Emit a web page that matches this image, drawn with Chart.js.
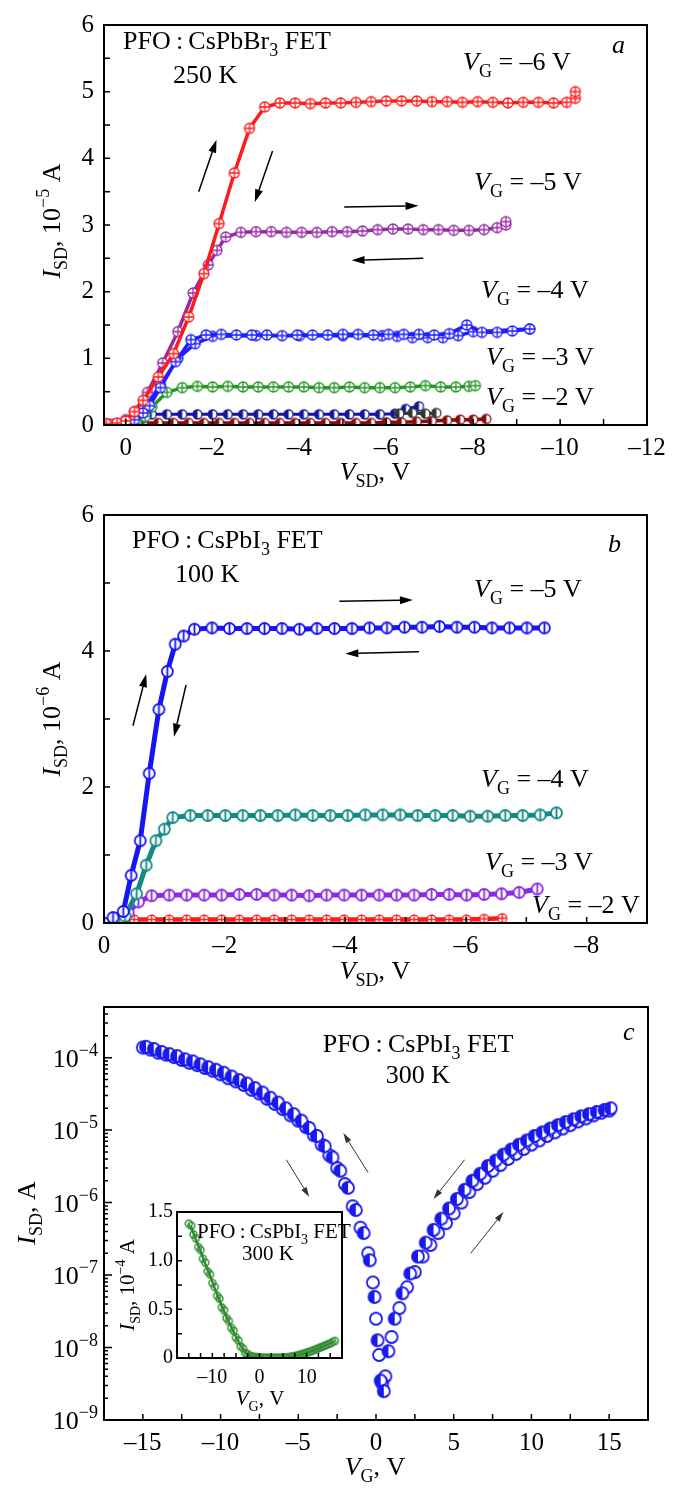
<!DOCTYPE html>
<html lang="en">
<head>
<meta charset="UTF-8">
<title>PFO:CsPbX3 FET</title>
<script src="https://cdn.jsdelivr.net/npm/chart.js@4.4.0/dist/chart.umd.min.js"></script>
<style>
  body { margin: 0; background: #fff; width: 676px; height: 1488px; position: relative; overflow: hidden; }
  canvas { position: absolute; left: 0; }
</style>
</head>
<body>
<canvas id="ca" width="676" height="490" style="top:0px"></canvas>
<canvas id="cb" width="676" height="510" style="top:490px"></canvas>
<canvas id="cc" width="676" height="488" style="top:1000px"></canvas>
<canvas id="ci" width="270" height="220" style="top:1195px;left:100px"></canvas>

<script>
// ---- panel a : PFO:CsPbBr3, 250 K, I_SD in 1e-5 A ----
const aRedX = [0.45, 0.2, 0, -0.2, -0.4, -0.75, -1.1, -1.45, -1.8, -2.15, -2.5, -2.85, -3.2, -3.55, -3.9, -4.25, -4.6, -4.95, -5.3, -5.65, -6.0, -6.35, -6.7, -7.05, -7.4, -7.75, -8.1, -8.45, -8.8, -9.15, -9.5, -9.85, -10.15, -10.35, -10.35];
const aRedY = [0.02, 0.03, 0.06, 0.2, 0.37, 0.72, 1.07, 1.62, 2.27, 3.02, 3.78, 4.45, 4.77, 4.83, 4.83, 4.82, 4.83, 4.83, 4.84, 4.85, 4.86, 4.86, 4.86, 4.85, 4.85, 4.84, 4.85, 4.84, 4.83, 4.84, 4.84, 4.83, 4.84, 4.9, 5.0];
const aPurX = [0.3, 0, -0.2, -0.5, -0.85, -1.2, -1.55, -1.9, -2.1, -2.3, -2.65, -3.0, -3.35, -3.7, -4.05, -4.4, -4.75, -5.1, -5.45, -5.8, -6.15, -6.5, -6.85, -7.2, -7.55, -7.9, -8.25, -8.55, -8.75, -8.75];
const aPurY = [0.01, 0.08, 0.2, 0.49, 0.93, 1.4, 1.98, 2.4, 2.62, 2.82, 2.89, 2.9, 2.9, 2.89, 2.89, 2.89, 2.9, 2.9, 2.91, 2.93, 2.94, 2.94, 2.93, 2.93, 2.92, 2.92, 2.93, 2.96, 3.0, 3.05];
const aBluX = [0.2, 0, -0.2, -0.4, -0.55, -0.8, -1.15, -1.5, -1.85, -2.2, -2.55, -2.9, -3.25, -3.6, -3.95, -4.3, -4.65, -5.0, -5.35, -5.7, -6.05, -6.4, -6.75, -7.1, -7.45, -7.85, -8.2, -8.55, -8.9, -9.3];
const aBluY = [0.0, 0.02, 0.08, 0.18, 0.29, 0.56, 0.95, 1.28, 1.35, 1.36, 1.35, 1.35, 1.35, 1.34, 1.35, 1.35, 1.35, 1.36, 1.36, 1.35, 1.36, 1.36, 1.36, 1.35, 1.37, 1.5, 1.39, 1.39, 1.41, 1.44];
const aBluBackX = [-9.3, -8.0, -7.65, -7.3, -6.95, -6.6, -6.25, -5.9, -5.0, -4.0, -3.0, -2.0, -1.6, -1.2, -0.8, -0.4, 0];
const aBluBackY = [1.44, 1.4, 1.34, 1.31, 1.31, 1.31, 1.33, 1.34, 1.34, 1.34, 1.34, 1.33, 1.22, 1.0, 0.6, 0.22, 0.02];
const aGrnX = [0.2, 0, -0.25, -0.45, -0.6, -0.95, -1.3, -1.65, -2.0, -2.35, -2.7, -3.05, -3.4, -3.75, -4.1, -4.45, -4.8, -5.15, -5.5, -5.85, -6.2, -6.55, -6.9, -7.25, -7.6, -7.9, -8.05];
const aGrnY = [0.0, 0.0, 0.02, 0.13, 0.27, 0.49, 0.56, 0.58, 0.57, 0.58, 0.57, 0.57, 0.57, 0.57, 0.57, 0.56, 0.56, 0.57, 0.56, 0.56, 0.56, 0.57, 0.59, 0.57, 0.57, 0.58, 0.59];
const aNavX = [0.1, -0.2, -0.4, -0.6, -0.95, -1.3, -1.65, -2.0, -2.35, -2.7, -3.05, -3.4, -3.75, -4.1, -4.45, -4.8, -5.15, -5.5, -5.85, -6.2, -6.45, -6.75];
const aNavY = [0.0, 0.03, 0.1, 0.16, 0.16, 0.16, 0.16, 0.16, 0.16, 0.16, 0.16, 0.16, 0.16, 0.16, 0.16, 0.16, 0.16, 0.16, 0.16, 0.17, 0.24, 0.28];
const aNavBackX = [-6.3, -6.6, -6.9, -7.15];
const aNavBackY = [0.17, 0.18, 0.17, 0.18];
const aMarX = [0.4, 0, -0.4, -0.75, -1.1, -1.45, -1.8, -2.15, -2.5, -2.85, -3.2, -3.55, -3.9, -4.25, -4.6, -4.95, -5.3, -5.65, -6.0, -6.35, -6.7, -7.05, -7.4, -7.7, -8.0, -8.3];
const aMarY = [0.02, 0.02, 0.03, 0.03, 0.03, 0.03, 0.03, 0.03, 0.03, 0.03, 0.03, 0.03, 0.03, 0.03, 0.03, 0.03, 0.03, 0.03, 0.04, 0.04, 0.05, 0.06, 0.07, 0.08, 0.08, 0.09];

// ---- panel b : PFO:CsPbI3, 100 K, I_SD in 1e-6 A ----
const bBluX = [0, -0.15, -0.32, -0.45, -0.6, -0.75, -0.91, -1.05, -1.18, -1.32, -1.5, -1.79, -2.08, -2.37, -2.66, -2.95, -3.24, -3.53, -3.82, -4.11, -4.4, -4.69, -4.98, -5.27, -5.56, -5.85, -6.14, -6.43, -6.72, -7.01, -7.3];
const bBluY = [0, 0.08, 0.17, 0.7, 1.21, 2.2, 3.14, 3.7, 4.1, 4.22, 4.32, 4.34, 4.33, 4.33, 4.33, 4.33, 4.32, 4.33, 4.33, 4.33, 4.34, 4.34, 4.35, 4.35, 4.36, 4.35, 4.35, 4.34, 4.34, 4.34, 4.34];
const bTealX = [-0.25, -0.35, -0.54, -0.7, -0.86, -1.0, -1.14, -1.43, -1.72, -2.01, -2.3, -2.59, -2.88, -3.17, -3.46, -3.75, -4.04, -4.33, -4.62, -4.91, -5.2, -5.49, -5.78, -6.07, -6.36, -6.65, -6.94, -7.23, -7.5];
const bTealY = [0.0, 0.1, 0.43, 0.85, 1.21, 1.38, 1.55, 1.58, 1.58, 1.58, 1.58, 1.58, 1.58, 1.59, 1.58, 1.58, 1.58, 1.59, 1.59, 1.59, 1.58, 1.58, 1.58, 1.57, 1.57, 1.58, 1.58, 1.59, 1.62];
const bPurX = [-0.25, -0.4, -0.57, -0.79, -1.08, -1.37, -1.66, -1.95, -2.24, -2.53, -2.82, -3.11, -3.4, -3.69, -3.98, -4.27, -4.56, -4.85, -5.14, -5.43, -5.72, -6.01, -6.3, -6.59, -6.88, -7.18];
const bPurY = [0.0, 0.15, 0.31, 0.4, 0.41, 0.41, 0.41, 0.41, 0.42, 0.42, 0.41, 0.41, 0.4, 0.41, 0.41, 0.41, 0.41, 0.41, 0.41, 0.42, 0.42, 0.41, 0.42, 0.43, 0.45, 0.5];
const bRedX = [-0.25, -0.5, -0.79, -1.08, -1.37, -1.66, -1.95, -2.24, -2.53, -2.82, -3.11, -3.4, -3.69, -3.98, -4.27, -4.56, -4.85, -5.14, -5.43, -5.72, -6.01, -6.3, -6.6];
const bRedY = [0.0, 0.05, 0.05, 0.05, 0.05, 0.05, 0.05, 0.05, 0.05, 0.05, 0.05, 0.05, 0.05, 0.05, 0.05, 0.05, 0.05, 0.05, 0.05, 0.05, 0.05, 0.06, 0.07];

// ---- panel c : transfer curve, 300 K, I_SD in A (log) ----
const cFwdX = [-15, -14.5, -14, -13.5, -13, -12.5, -12, -11.5, -11, -10.5, -10, -9.5, -9, -8.5, -8, -7.5, -7, -6.5, -6, -5.5, -5, -4.5, -4, -3.5, -3, -2.5, -2, -1.5, -1, -0.5,
  -0.2, 0, 0.2, 0.4, 0.6,
  1, 1.5, 2, 2.5, 3, 3.5, 4, 4.5, 5, 5.5, 6, 6.5, 7, 7.5, 8, 8.5, 9, 9.5, 10, 10.5, 11, 11.5, 12, 12.5, 13, 13.5, 14, 14.5, 15];
const cFwdY = [1.38e-4, 1.29e-4, 1.17e-4, 1.10e-4, 1.02e-4, 9.3e-5, 8.5e-5, 7.9e-5, 7.2e-5, 6.6e-5, 5.9e-5, 5.2e-5, 4.7e-5, 4.2e-5, 3.6e-5, 3.2e-5, 2.7e-5, 2.3e-5, 1.95e-5, 1.6e-5, 1.35e-5, 1.1e-5, 8.5e-6, 6.3e-6, 4.5e-6, 3.0e-6, 1.8e-6, 8.9e-7, 4.5e-7, 2.0e-7,
  7.9e-8, 2.5e-8, 7.9e-9, 3.2e-9, 4.0e-9,
  1.4e-8, 3.5e-8, 6.8e-8, 1.1e-7, 1.8e-7, 2.6e-7, 3.8e-7, 5.2e-7, 7.1e-7, 1.0e-6, 1.4e-6, 1.8e-6, 2.2e-6, 2.75e-6, 3.3e-6, 4.0e-6, 4.7e-6, 5.5e-6, 6.3e-6, 7.2e-6, 8.3e-6, 9.3e-6, 1.05e-5, 1.17e-5, 1.32e-5, 1.45e-5, 1.6e-5, 1.74e-5, 1.86e-5];
const cBackX = [-14.8, -14.3, -13.8, -13.3, -12.8, -12.3, -11.8, -11.3, -10.8, -10.3, -9.8, -9.3, -8.8, -8.3, -7.8, -7.3, -6.8, -6.3, -5.8, -5.3, -4.8, -4.3, -3.8, -3.3, -2.8, -2.3, -1.8, -1.3, -0.8,
  -0.4, -0.1, 0.1, 0.3, 0.5, 0.8,
  1.2, 1.7, 2.2, 2.7, 3.2, 3.7, 4.2, 4.7, 5.2, 5.7, 6.2, 6.7, 7.2, 7.7, 8.2, 8.7, 9.2, 9.7, 10.2, 10.7, 11.2, 11.7, 12.2, 12.7, 13.2, 13.7, 14.2, 14.7, 15.1];
const cBackY = [1.41e-4, 1.32e-4, 1.2e-4, 1.12e-4, 1.05e-4, 9.5e-5, 8.9e-5, 8.1e-5, 7.4e-5, 6.8e-5, 6.2e-5, 5.5e-5, 4.9e-5, 4.4e-5, 3.8e-5, 3.3e-5, 2.8e-5, 2.4e-5, 2.0e-5, 1.66e-5, 1.35e-5, 1.07e-5, 8.3e-6, 6.0e-6, 4.2e-6, 2.75e-6, 1.6e-6, 7.9e-7, 3.8e-7,
  1.6e-7, 5.0e-8, 1.26e-8, 3.5e-9, 2.5e-9, 8.9e-9,
  2.5e-8, 5.6e-8, 1.05e-7, 1.8e-7, 2.8e-7, 4.2e-7, 6.0e-7, 8.3e-7, 1.12e-6, 1.5e-6, 2.0e-6, 2.5e-6, 3.2e-6, 3.8e-6, 4.6e-6, 5.4e-6, 6.3e-6, 7.2e-6, 8.3e-6, 9.3e-6, 1.05e-5, 1.17e-5, 1.29e-5, 1.41e-5, 1.55e-5, 1.66e-5, 1.78e-5, 1.9e-5, 2.0e-5];

// ---- inset : same transfer curve, linear, 1e-4 A ----
const inFwdX = [-15, -14, -13, -12, -11, -10, -9, -8, -7, -6, -5, -4, -3, -2, -1, 0, 1, 2, 3, 4, 5, 6, 7, 8, 9, 10, 11, 12, 13, 14, 15, 16];
const inFwdY = [1.38, 1.27, 1.14, 1.02, 0.89, 0.77, 0.64, 0.52, 0.41, 0.31, 0.21, 0.12, 0.05, 0.02, 0.01, 0.005, 0.003, 0.002, 0.002, 0.003, 0.005, 0.008, 0.015, 0.025, 0.04, 0.055, 0.07, 0.09, 0.11, 0.13, 0.15, 0.175];
const inBackX = [-14.5, -13.5, -12.5, -11.5, -10.5, -9.5, -8.5, -7.5, -6.5, -5.5, -4.5, -3.5, -2.5, -1.5, -0.5, 0.5, 1.5, 2.5, 3.5, 4.5, 5.5, 6.5, 7.5, 8.5, 9.5, 10.5, 11.5, 12.5, 13.5, 14.5, 15.5];
const inBackY = [1.36, 1.23, 1.11, 0.98, 0.86, 0.73, 0.61, 0.49, 0.38, 0.28, 0.18, 0.1, 0.04, 0.015, 0.008, 0.004, 0.003, 0.002, 0.003, 0.004, 0.006, 0.011, 0.02, 0.032, 0.047, 0.062, 0.08, 0.1, 0.12, 0.14, 0.165];

const SERIF = '"Liberation Serif", "Times New Roman", serif';

// small marker glyphs drawn once, handed to Chart.js as pointStyle
function mk(kind, color, r, lw) {
  const s = Math.ceil(2 * r + lw + 2);
  const c = document.createElement('canvas');
  c.width = c.height = s;
  const g = c.getContext('2d');
  const m = s / 2;
  g.lineWidth = lw;
  g.strokeStyle = color;
  if (kind !== 'ring') {
    g.fillStyle = '#fff';
    g.beginPath(); g.arc(m, m, r, 0, 2 * Math.PI); g.fill();
  }
  if (kind === 'half') {
    g.fillStyle = color;
    g.beginPath(); g.arc(m, m, r, Math.PI / 2, Math.PI * 1.5); g.fill();
  }
  g.beginPath(); g.arc(m, m, r, 0, 2 * Math.PI); g.stroke();
  if (kind === 'plus') {
    g.beginPath(); g.moveTo(m - r, m); g.lineTo(m + r, m); g.moveTo(m, m - r); g.lineTo(m, m + r); g.stroke();
  }
  if (kind === 'vbar') {
    g.beginPath(); g.moveTo(m, m - r); g.lineTo(m, m + r); g.stroke();
  }
  return c;
}

function ser(xs, ys, color, kind, r, lw, lineW) {
  return {
    data: xs.map((x, i) => ({ x: x, y: ys[i] })),
    borderColor: color,
    backgroundColor: color,
    borderWidth: lineW,
    showLine: lineW > 0,
    tension: 0,
    pointStyle: mk(kind, color, r, lw),
    pointRadius: r
  };
}

// text with italic / subscript / superscript runs
function rich(ctx, parts, x, y, size, align, rot) {
  const small = Math.round(size * 0.68);
  const fonts = { n: size + 'px ' + SERIF, i: 'italic ' + size + 'px ' + SERIF, b: small + 'px ' + SERIF, p: small + 'px ' + SERIF };
  const dy = { n: 0, i: 0, b: size * 0.28, p: -size * 0.42 };
  let w = 0;
  parts.forEach(([t, k]) => { ctx.font = fonts[k]; w += ctx.measureText(t).width; });
  ctx.save();
  ctx.translate(x, y);
  if (rot) ctx.rotate(rot);
  let cx = align === 'center' ? -w / 2 : align === 'right' ? -w : 0;
  ctx.fillStyle = '#000';
  ctx.textAlign = 'left';
  ctx.textBaseline = 'alphabetic';
  parts.forEach(([t, k]) => { ctx.font = fonts[k]; ctx.fillText(t, cx, dy[k]); cx += ctx.measureText(t).width; });
  ctx.restore();
}

function arrow(ctx, x1, y1, x2, y2, color, lw, hl, hw) {
  const a = Math.atan2(y2 - y1, x2 - x1);
  const bx = x2 - hl * Math.cos(a), by = y2 - hl * Math.sin(a);
  ctx.strokeStyle = color; ctx.fillStyle = color; ctx.lineWidth = lw;
  ctx.beginPath(); ctx.moveTo(x1, y1); ctx.lineTo(bx, by); ctx.stroke();
  ctx.beginPath();
  ctx.moveTo(x2, y2);
  ctx.lineTo(bx + hw * Math.sin(a), by - hw * Math.cos(a));
  ctx.lineTo(bx - hw * Math.sin(a), by + hw * Math.cos(a));
  ctx.closePath(); ctx.fill();
}

// frame, inward ticks, arrows and labels
function deco(spec) {
  return {
    id: 'deco',
    beforeDatasetsDraw(chart) {
      if (!spec.whiteBg) return;
      const a = chart.chartArea;
      chart.ctx.fillStyle = '#fff';
      chart.ctx.fillRect(a.left, a.top, a.right - a.left, a.bottom - a.top);
    },
    afterDraw(chart) {
      const ctx = chart.ctx, a = chart.chartArea, sx = chart.scales.x, sy = chart.scales.y;
      ctx.save();
      ctx.strokeStyle = '#000';
      ctx.lineWidth = 1.5;
      ctx.beginPath();
      sx.ticks.forEach(t => {
        const p = sx.getPixelForValue(t.value);
        ctx.moveTo(p, a.bottom); ctx.lineTo(p, a.bottom - spec.tick);
      });
      if (spec.logY) {
        for (let e = -9; e <= -4; e++) {
          for (let k = 1; k <= 9; k++) {
            const v = k * Math.pow(10, e);
            if (v < sy.min || v > sy.max) continue;
            const p = sy.getPixelForValue(v);
            ctx.moveTo(a.left, p); ctx.lineTo(a.left + (k === 1 ? 8 : 4), p);
          }
        }
      } else {
        sy.ticks.forEach(t => {
          const p = sy.getPixelForValue(t.value);
          ctx.moveTo(a.left, p); ctx.lineTo(a.left + spec.tick, p);
        });
      }
      ctx.stroke();
      ctx.lineWidth = 2;
      ctx.strokeRect(a.left, a.top, a.right - a.left, a.bottom - a.top);
      if (spec.logY) {
        for (let e = -9; e <= -4; e++) {
          rich(ctx, [['10', 'n'], ['\u2212' + (-e), 'p']], a.left - 6, sy.getPixelForValue(Math.pow(10, e)) + 9, 26, 'right');
        }
      }
      (spec.arrows || []).forEach(r => arrow(ctx,
        sx.getPixelForValue(r[0]), sy.getPixelForValue(r[1]),
        sx.getPixelForValue(r[2]), sy.getPixelForValue(r[3]),
        spec.arrowColor, spec.arrowW, spec.head[0], spec.head[1]));
      (spec.texts || []).forEach(t => rich(ctx, t.p, t.x, t.y, t.s || 26, t.a, t.r));
      ctx.restore();
    }
  };
}

function fmt(v) {
  if (Math.abs(v) < 1e-9) return '0';
  return v < 0 ? '\u2013' + (-v) : '' + v;
}

function axis(o) {
  return {
    type: o.type || 'linear',
    min: o.min, max: o.max, reverse: !!o.reverse,
    grid: { display: false, drawTicks: false },
    border: { display: false },
    ticks: {
      display: o.show !== false,
      stepSize: o.step, includeBounds: false, autoSkip: false, maxRotation: 0,
      color: '#000', padding: o.pad, font: { family: SERIF, size: o.fs || 25 },
      callback: o.cb
    },
    afterFit: s => { if (s.isHorizontal()) s.height = o.size; else s.width = o.size; }
  };
}

function make(id, datasets, xAx, yAx, pad, spec) {
  return new Chart(document.getElementById(id), {
    type: 'scatter',
    data: { datasets: datasets },
    options: {
      responsive: false, animation: false, devicePixelRatio: 1, events: [],
      layout: { padding: pad },
      plugins: { legend: { display: false }, tooltip: { enabled: false } },
      scales: { x: xAx, y: yAx }
    },
    plugins: [deco(spec)]
  });
}

const VG = v => [['V', 'i'], ['G', 'b'], [' = \u2013' + v + ' V', 'n']];
const ISD = e => [['I', 'i'], ['SD', 'b'], [', 10', 'n'], ['\u2212' + e, 'p'], [' A', 'n']];

// panel a
make('ca', [
  ser(aRedX, aRedY, '#ff1a1a', 'plus', 5, 1.3, 3.5),
  ser(aPurX, aPurY, '#972ba3', 'plus', 5, 1.3, 3.5),
  ser(aBluX, aBluY, '#1f1fff', 'plus', 5, 1.3, 3.5),
  ser(aBluBackX, aBluBackY, '#1f1fff', 'plus', 5, 1.3, 3.5),
  ser(aGrnX, aGrnY, '#229922', 'plus', 5, 1.3, 3.5),
  ser(aNavBackX, aNavBackY, '#333333', 'half', 4.5, 1.3, 3),
  ser(aNavX, aNavY, '#15159a', 'half', 4.5, 1.3, 3),
  ser(aMarX, aMarY, '#8b0a0a', 'half', 4.5, 1.3, 3.5)
],
  axis({ min: -12, max: 0.5, reverse: true, step: 1, size: 65, pad: 8, cb: v => (v % 2 === 0 ? fmt(v) : '') }),
  axis({ min: 0, max: 6, step: 0.5, size: 104, pad: 10, cb: v => (v % 1 === 0 ? fmt(v) : '') }),
  { top: 15, right: 29, left: 0, bottom: 0 },
  {
    tick: 6, arrowColor: '#000', arrowW: 1.5, head: [13, 4],
    arrows: [[-1.68, 3.5, -2.09, 4.28], [-3.38, 4.11, -2.97, 3.34], [-5.03, 3.27, -6.74, 3.29], [-6.85, 2.5, -5.2, 2.47]],
    texts: [
      { p: [['PFO\u2009:\u2009CsPbBr', 'n'], ['3', 'b'], [' FET', 'n']], x: 123, y: 49 },
      { p: [['250 K', 'n']], x: 173, y: 83 },
      { p: [['a', 'i']], x: 612, y: 53 },
      { p: VG(6), x: 463, y: 70 },
      { p: VG(5), x: 474, y: 190 },
      { p: VG(4), x: 481, y: 298 },
      { p: VG(3), x: 486, y: 365 },
      { p: VG(2), x: 486, y: 405 },
      { p: [['V', 'i'], ['SD', 'b'], [', V', 'n']], x: 375, y: 480, a: 'center' },
      { p: ISD(5), x: 60, y: 221, a: 'center', r: -Math.PI / 2 }
    ]
  });

// panel b
make('cb', [
  ser(bBluX, bBluY, '#1515f5', 'vbar', 5.5, 1.8, 5),
  ser(bTealX, bTealY, '#138a86', 'vbar', 5.5, 1.8, 5),
  ser(bPurX, bPurY, '#8a2be2', 'vbar', 5.5, 1.8, 5),
  ser(bRedX, bRedY, '#ff1a1a', 'plus', 4.5, 1.3, 4.5)
],
  axis({ min: -9, max: 0, reverse: true, step: 1, size: 77, pad: 8, cb: v => (v % 2 === 0 ? fmt(v) : '') }),
  axis({ min: 0, max: 6, step: 1, size: 104, pad: 10, cb: v => (v % 2 === 0 ? fmt(v) : '') }),
  { top: 15, right: 29, left: 0, bottom: 0 },
  {
    tick: 6, arrowColor: '#000', arrowW: 1.5, head: [13, 4],
    arrows: [[-0.48, 2.9, -0.7, 3.66], [-1.36, 3.5, -1.16, 2.74], [-3.9, 4.73, -5.12, 4.75], [-5.22, 3.99, -4.0, 3.96]],
    texts: [
      { p: [['PFO\u2009:\u2009CsPbI', 'n'], ['3', 'b'], [' FET', 'n']], x: 132, y: 58 },
      { p: [['100 K', 'n']], x: 175, y: 92 },
      { p: [['b', 'i']], x: 608, y: 62 },
      { p: VG(5), x: 474, y: 107 },
      { p: VG(4), x: 481, y: 297 },
      { p: VG(3), x: 485, y: 380 },
      { p: VG(2), x: 532, y: 423 },
      { p: [['V', 'i'], ['SD', 'b'], [', V', 'n']], x: 375, y: 489, a: 'center' },
      { p: ISD(6), x: 60, y: 229, a: 'center', r: -Math.PI / 2 }
    ]
  });

// panel c
make('cc', [
  ser(cBackX, cBackY, '#1a1aee', 'half', 6, 1.8, 0),
  ser(cFwdX, cFwdY, '#1a1aee', 'ring', 6, 1.8, 0)
],
  axis({ min: -17.5, max: 17.5, step: 2.5, size: 68, pad: 8, cb: v => (v % 5 === 0 ? fmt(v) : '') }),
  axis({ type: 'logarithmic', min: 1e-9, max: 5e-4, size: 104, show: false }),
  { top: 7, right: 28, left: 0, bottom: 0 },
  {
    tick: 6, logY: true, arrowColor: '#333', arrowW: 1, head: [10, 3],
    arrows: [[-5.77, 3.9e-6, -4.3, 1.2e-6], [-0.51, 2.6e-6, -2.1, 9.1e-6], [5.7, 3.9e-6, 3.7, 1.12e-6], [6.1, 2.0e-7, 8.2, 7.4e-7]],
    texts: [
      { p: [['PFO\u2009:\u2009CsPbI', 'n'], ['3', 'b'], [' FET', 'n']], x: 418, y: 52, a: 'center' },
      { p: [['300 K', 'n']], x: 418, y: 83, a: 'center' },
      { p: [['c', 'i']], x: 623, y: 40 },
      { p: [['V', 'i'], ['G', 'b'], [', V', 'n']], x: 375, y: 475, a: 'center' },
      { p: [['I', 'i'], ['SD', 'b'], [', A', 'n']], x: 35, y: 213, a: 'center', r: -Math.PI / 2 }
    ]
  });

// inset
make('ci', [
  ser(inBackX, inBackY, '#2e8b2e', 'ring', 3.5, 1.4, 1.5),
  ser(inFwdX, inFwdY, '#2e8b2e', 'ring', 3.5, 1.4, 1.5)
],
  axis({ min: -17.5, max: 17.5, step: 2.5, size: 57, pad: 8, fs: 20, cb: v => (v % 10 === 0 ? fmt(v) : '') }),
  axis({ min: 0, max: 1.5, step: 0.25, size: 77, pad: 4, fs: 20, cb: v => (v % 0.5 === 0 ? (v === 0 ? '0' : v.toFixed(1)) : '') }),
  { top: 17, right: 28, left: 0, bottom: 0 },
  {
    tick: 5, whiteBg: true,
    texts: [
      { p: [['PFO\u2009:\u2009CsPbI', 'n'], ['3', 'b'], [' FET', 'n']], x: 97, y: 43, s: 21 },
      { p: [['300 K', 'n']], x: 168, y: 65, s: 21, a: 'center' },
      { p: [['V', 'i'], ['G', 'b'], [', V', 'n']], x: 160, y: 210, s: 21, a: 'center' },
      { p: ISD(4), x: 34, y: 90, s: 21, a: 'center', r: -Math.PI / 2 }
    ]
  });
</script>
</body>
</html>
